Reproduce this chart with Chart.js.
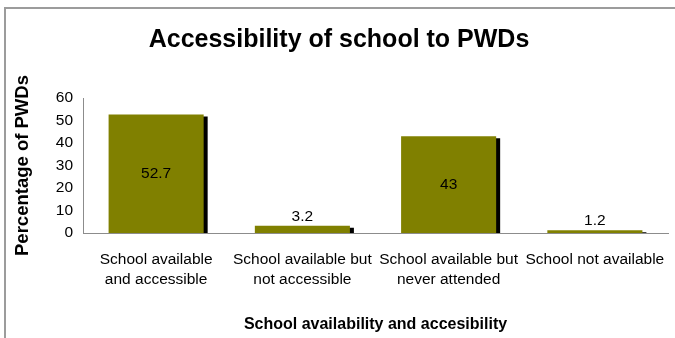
<!DOCTYPE html>
<html>
<head>
<meta charset="utf-8">
<title>Accessibility of school to PWDs</title>
<script src="https://cdn.jsdelivr.net/npm/chart.js@4/dist/chart.umd.min.js"></script>
<style>
    html, body { margin: 0; padding: 0; background: #fff; }
    #wrap { position: relative; width: 675px; height: 338px; }
</style>
</head>
<body>
<div id="wrap"><canvas id="accessChart" width="675" height="338"></canvas></div>
<script>
// School availability categories and share of PWDs (%)
const categories = [
    ['School available', 'and accessible'],
    ['School available but', 'not accessible'],
    ['School available but', 'never attended'],
    ['School not available']
];
const percentages = [52.7, 3.2, 43, 1.2];
const valueLabels = ['52.7', '3.2', '43', '1.2'];

const FONT = 'Liberation Sans, Arial, Helvetica, sans-serif';
const BAR_COLOR = '#808000';
const AXIS_COLOR = '#8c8c8c';

// grey frame around the whole chart
const framePlugin = {
    id: 'frame',
    beforeDraw(chart) {
        const ctx = chart.ctx;
        ctx.save();
        ctx.fillStyle = '#fff';
        ctx.fillRect(0, 0, chart.width, chart.height);
        ctx.strokeStyle = '#9c9c9c';
        ctx.lineWidth = 2;
        ctx.strokeRect(5, 8, chart.width + 20, chart.height + 20);
        ctx.restore();
    }
};

// hard black drop shadow on the bars
const barShadow = {
    id: 'barShadow',
    beforeDatasetDraw(chart) {
        const ctx = chart.ctx;
        ctx.save();
        ctx.shadowColor = '#000';
        ctx.shadowOffsetX = 4;
        ctx.shadowOffsetY = 2;
        ctx.shadowBlur = 0;
    },
    afterDatasetDraw(chart) {
        chart.ctx.restore();
    }
};

// value labels: inside tall bars, above short ones
const valueLabelPlugin = {
    id: 'valueLabels',
    afterDatasetsDraw(chart) {
        const ctx = chart.ctx;
        const meta = chart.getDatasetMeta(0);
        ctx.save();
        ctx.font = '15.5px ' + FONT;
        ctx.fillStyle = '#000';
        ctx.textAlign = 'center';
        ctx.textBaseline = 'middle';
        meta.data.forEach((bar, i) => {
            const h = bar.base - bar.y;
            const y = h > 30 ? (bar.y + bar.base) / 2 : bar.y - 9.5;
            ctx.fillText(valueLabels[i], bar.x, y);
        });
        ctx.restore();
    }
};

new Chart(document.getElementById('accessChart'), {
    type: 'bar',
    data: {
        labels: categories,
        datasets: [{
            label: 'Percentage of PWDs',
            data: percentages,
            backgroundColor: BAR_COLOR,
            borderWidth: 0,
            barPercentage: 0.65,
            categoryPercentage: 1
        }]
    },
    options: {
        responsive: false,
        animation: false,
        devicePixelRatio: 1,
        layout: {
            padding: { left: 10, right: 7, top: 0, bottom: 0 }
        },
        plugins: {
            legend: { display: false },
            tooltip: { enabled: false },
            title: {
                display: true,
                text: 'Accessibility of school to PWDs',
                color: '#000',
                font: { family: FONT, size: 25, weight: 'bold' },
                padding: { top: 25, bottom: 43 }
            }
        },
        scales: {
            y: {
                min: 0,
                max: 60,
                ticks: {
                    stepSize: 10,
                    color: '#000',
                    padding: 10,
                    font: { family: FONT, size: 15.5 }
                },
                grid: { display: false, drawTicks: false },
                border: { display: true, color: AXIS_COLOR, width: 1 },
                title: {
                    display: true,
                    text: 'Percentage of PWDs',
                    color: '#000',
                    font: { family: FONT, size: 18.5, weight: 'bold' },
                    padding: { top: 2, bottom: 0 }
                },
                afterFit(scale) { scale.width = 73; }
            },
            x: {
                ticks: {
                    color: '#000',
                    padding: 17,
                    maxRotation: 0,
                    autoSkip: false,
                    font: { family: FONT, size: 15.5, lineHeight: 1.29 }
                },
                grid: { display: false, drawTicks: false },
                border: { display: true, color: AXIS_COLOR, width: 1 },
                title: {
                    display: true,
                    text: 'School availability and accesibility',
                    color: '#000',
                    font: { family: FONT, size: 16, weight: 'bold' },
                    padding: { top: 0, bottom: 4 }
                },
                afterFit(scale) {
                    // labels may run into the margins; keep the plot edge fixed
                    scale.height = 105;
                    scale.paddingLeft = 0;
                    scale.paddingRight = 0;
                }
            }
        }
    },
    plugins: [framePlugin, barShadow, valueLabelPlugin]
});
</script>
</body>
</html>
